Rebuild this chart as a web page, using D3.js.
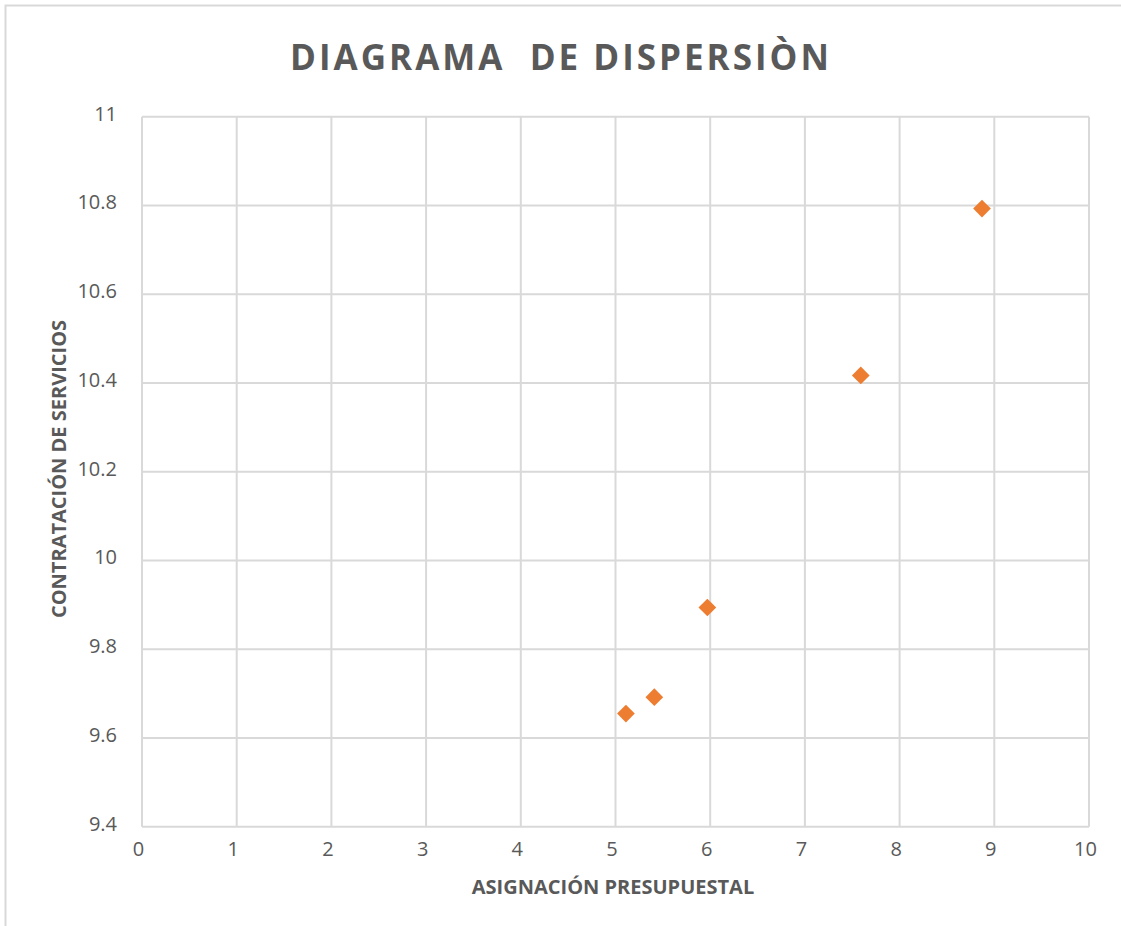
<!DOCTYPE html>
<html>
<head>
<meta charset="utf-8">
<script src="https://cdn.jsdelivr.net/npm/d3@7"></script>
<style>
  html, body { margin: 0; padding: 0; background: #fff; }
  svg { display: block; }
</style>
</head>
<body>
<div id="chart"></div>
<script>
// datos
const asignacion = [5.11, 5.41, 5.97, 7.59, 8.87];
const contratacion = [9.655, 9.692, 9.894, 10.417, 10.793];
const xTicks = [0, 1, 2, 3, 4, 5, 6, 7, 8, 9, 10];
const yTicks = [9.4, 9.6, 9.8, 10, 10.2, 10.4, 10.6, 10.8, 11];

const width = 1121, height = 926;
const margin = { top: 116.7, right: 32, bottom: 99.3, left: 142 };
const grey = "#595959";
const gridColor = "#d9d9d9";

const svg = d3.select("#chart").append("svg")
  .attr("width", width)
  .attr("height", height);

// marco del gráfico (solo se ve arriba e izquierda)
svg.append("rect")
  .attr("x", 5.5).attr("y", 5.5)
  .attr("width", width + 20).attr("height", height + 20)
  .attr("fill", "none")
  .attr("stroke", gridColor)
  .attr("stroke-width", 2);

const x = d3.scaleLinear().domain([0, 10]).range([margin.left, width - margin.right]);
const y = d3.scaleLinear().domain([9.4, 11]).range([height - margin.bottom, margin.top]);

// rejilla
const grid = svg.append("g").attr("stroke", gridColor).attr("stroke-width", 2);
grid.selectAll("line.v").data(xTicks).enter().append("line")
  .attr("class", "v")
  .attr("x1", d => x(d)).attr("x2", d => x(d))
  .attr("y1", y(11)).attr("y2", y(9.4));
grid.selectAll("line.h").data(yTicks).enter().append("line")
  .attr("class", "h")
  .attr("x1", x(0)).attr("x2", x(10))
  .attr("y1", d => y(d)).attr("y2", d => y(d));

// ejes (solo etiquetas)
const xAxis = svg.append("g")
  .attr("transform", `translate(-4,${y(9.4)})`)
  .call(d3.axisBottom(x).tickValues(xTicks).tickSize(0).tickPadding(15).tickFormat(d3.format("d")));
const yAxis = svg.append("g")
  .attr("transform", `translate(${x(0)},-3)`)
  .call(d3.axisLeft(y).tickValues(yTicks).tickSize(0).tickPadding(25).tickFormat(d => String(+d.toFixed(1))));

[xAxis, yAxis].forEach(a => {
  a.select(".domain").remove();
  a.selectAll("text")
    .attr("fill", grey)
    .style("font-family", "'Open Sans', sans-serif")
    .style("font-size", "20px");
});

// puntos (rombos)
svg.append("g").selectAll("path")
  .data(asignacion.map((v, i) => [v, contratacion[i]]))
  .enter().append("path")
  .attr("d", d3.symbol().type(d3.symbolDiamond2).size(200))
  .attr("transform", d => `translate(${x(d[0])},${y(d[1])})`)
  .attr("fill", "#ED7D31");

// título
svg.append("text")
  .attr("x", 561).attr("y", 70)
  .attr("text-anchor", "middle")
  .attr("fill", grey)
  .style("font-family", "'Open Sans', sans-serif")
  .style("font-weight", "bold")
  .style("font-size", "35px")
  .style("letter-spacing", "3px")
  .style("white-space", "pre")
  .text("DIAGRAMA  DE DISPERSIÒN");

// títulos de ejes
svg.append("text")
  .attr("x", 613).attr("y", 894)
  .attr("text-anchor", "middle")
  .attr("fill", grey)
  .style("font-family", "'Open Sans', sans-serif")
  .style("font-weight", "bold")
  .style("font-size", "20px")
  .text("ASIGNACIÓN PRESUPUESTAL");

svg.append("text")
  .attr("transform", "translate(66,469) rotate(-90)")
  .attr("text-anchor", "middle")
  .attr("fill", grey)
  .style("font-family", "'Open Sans', sans-serif")
  .style("font-weight", "bold")
  .style("font-size", "20px")
  .text("CONTRATACIÓN DE SERVICIOS");
</script>
</body>
</html>
